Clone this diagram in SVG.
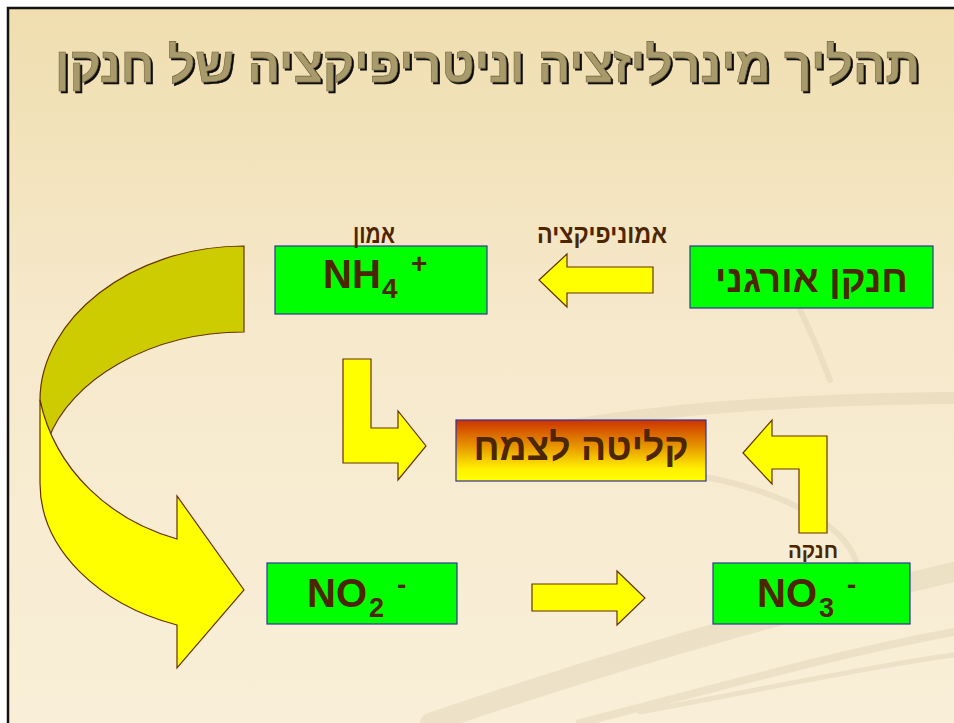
<svg xmlns="http://www.w3.org/2000/svg" width="954" height="723" viewBox="0 0 954 723">
<defs>
<linearGradient id="bg" x1="0" y1="0" x2="0" y2="1">
<stop offset="0" stop-color="#F0DEAF"/>
<stop offset="0.45" stop-color="#F6E9CC"/>
<stop offset="1" stop-color="#F9EFD8"/>
</linearGradient>
<linearGradient id="uptakeFill" x1="0" y1="0" x2="0" y2="1">
<stop offset="0" stop-color="#CC3300"/>
<stop offset="0.45" stop-color="#E89A00"/>
<stop offset="0.8" stop-color="#FFF000"/>
<stop offset="1" stop-color="#FFFF00"/>
</linearGradient>
<filter id="shadow" x="-5%" y="-20%" width="110%" height="140%">
<feDropShadow dx="2" dy="2" stdDeviation="0.3" flood-color="#111111" flood-opacity="1"/>
</filter>
<style>
.heb{font-family:"Liberation Sans","DejaVu Sans",sans-serif;font-weight:bold;fill:#4D2600;}
.chem{font-family:"Liberation Sans",Arial,sans-serif;font-weight:bold;fill:#4D2600;}
.box{fill:#00FF00;stroke:#333399;stroke-width:1.2;}
.arrow{fill:#FFFF00;stroke:#663300;stroke-width:1.2;stroke-linejoin:miter;}
.swoosh{fill:none;stroke:#D8CBAD;stroke-linecap:round;}
</style>
</defs>
<rect x="0" y="0" width="954" height="723" fill="#FFFFFF"/>
<rect x="8" y="8" width="946" height="715" fill="url(#bg)"/>
<g id="background-swooshes" opacity="0.35">
<path class="swoosh" stroke-width="12" d="M470,445 C600,415 740,400 954,398"/>
<path class="swoosh" stroke-width="6" d="M560,470 C660,462 760,480 820,520 C850,540 860,560 858,580"/>
<path class="swoosh" stroke-width="6" d="M800,310 C815,340 822,360 830,380"/>
<path class="swoosh" stroke-width="20" d="M430,723 C600,665 780,612 954,572"/>
<path class="swoosh" stroke-width="8" d="M580,723 C710,690 830,655 954,632"/>
<path class="swoosh" stroke-width="5" d="M640,712 C760,690 870,666 954,655"/>
</g>
<path d="M8,723 L8,8 L954,8" fill="none" stroke="#111111" stroke-width="2.5"/>
<g id="title">
<text x="487.5" y="82" text-anchor="middle" font-family="'Liberation Sans','DejaVu Sans',sans-serif" font-weight="bold" font-size="50" fill="#A89A6A" stroke="#6E6440" stroke-width="0.6" textLength="865" lengthAdjust="spacingAndGlyphs" filter="url(#shadow)">תהליך מינרליזציה וניטריפיקציה של חנקן</text>
</g>
<g id="connectors">
<g id="mineralization-curve">
<path d="M244,246 C130,246 40,320 40,400 L48,440 C70,380 150,332 244,332 Z" fill="#CCCC00" stroke="#663300" stroke-width="1.2"/>
<path class="arrow" d="M40,400 L40,483 C40,550 100,605 177,625 L177,668 L244,590 L177,496 L177,539 C110,520 55,470 40,400 Z"/>
</g>
<g id="ammonification-arrow">
<path class="arrow" d="M539,280 L567,254 L567,267 L653,267 L653,293 L567,293 L567,307 Z"/>
<text class="heb" x="602" y="243" text-anchor="middle" font-size="26" textLength="130" lengthAdjust="spacingAndGlyphs">אמוניפיקציה</text>
</g>
<path id="nh4-to-uptake" class="arrow" d="M343,359 L371,359 L371,428 L398,428 L398,411 L426,446 L398,480 L398,463 L343,463 Z"/>
<path id="no3-to-uptake" class="arrow" d="M743,453 L772,420 L772,436 L827,436 L827,533 L799,533 L799,469 L772,469 L772,484 Z"/>
<path id="no2-to-no3" class="arrow" d="M532,584 L617,584 L617,571 L645,598 L617,625 L617,611 L532,611 Z"/>
</g>
<g id="nh4">
<rect class="box" x="275" y="246" width="212" height="68"/>
<text class="heb" x="374" y="243" text-anchor="middle" font-size="26" textLength="42" lengthAdjust="spacingAndGlyphs">אמון</text>
<text class="chem" x="323" y="288" font-size="40">NH</text>
<text class="chem" x="382" y="298" font-size="28">4</text>
<text class="chem" x="411" y="273" font-size="28">+</text>
</g>
<g id="organic-nitrogen">
<rect class="box" x="690" y="246" width="243" height="62"/>
<text class="heb" x="811.5" y="292" text-anchor="middle" font-size="38" textLength="193" lengthAdjust="spacingAndGlyphs">חנקן אורגני</text>
</g>
<g id="plant-uptake">
<rect x="456" y="420" width="250" height="61" fill="url(#uptakeFill)" stroke="#333399" stroke-width="1.2"/>
<text class="heb" x="581" y="460" text-anchor="middle" font-size="38" textLength="215" lengthAdjust="spacingAndGlyphs">קליטה לצמח</text>
</g>
<g id="no2">
<rect class="box" x="267" y="563" width="190" height="61"/>
<text class="chem" x="307" y="607" font-size="40">NO</text>
<text class="chem" x="369" y="617" font-size="27">2</text>
<text class="chem" x="397" y="594" font-size="28">-</text>
</g>
<g id="no3">
<rect class="box" x="713" y="563" width="197" height="61"/>
<text class="heb" x="813" y="558" text-anchor="middle" font-size="21" textLength="50" lengthAdjust="spacingAndGlyphs">חנקה</text>
<text class="chem" x="757" y="607" font-size="40">NO</text>
<text class="chem" x="819" y="617" font-size="27">3</text>
<text class="chem" x="847" y="594" font-size="28">-</text>
</g>
</svg>
